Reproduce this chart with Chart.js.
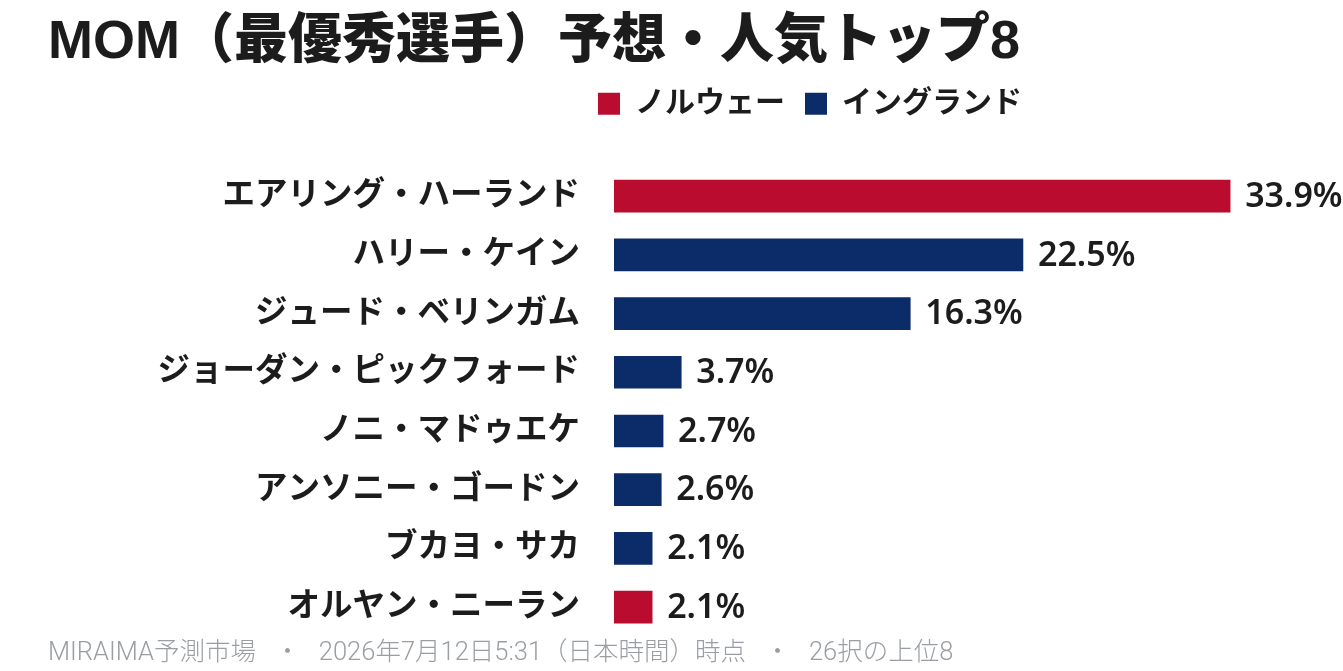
<!DOCTYPE html>
<html lang="ja">
<head>
<meta charset="utf-8">
<title>MOM予想</title>
<script src="https://cdn.jsdelivr.net/npm/chart.js@4.4.1/dist/chart.umd.min.js"></script>
<style>
  html, body { margin: 0; padding: 0; background: #fff; }
  #wrap { width: 1343px; height: 671px; position: relative; }
</style>
</head>
<body>
<div id="wrap"><canvas id="chart"></canvas></div>
<script>
const players = [
    'エアリング・ハーランド',
    'ハリー・ケイン',
    'ジュード・ベリンガム',
    'ジョーダン・ピックフォード',
    'ノニ・マドゥエケ',
    'アンソニー・ゴードン',
    'ブカヨ・サカ',
    'オルヤン・ニーラン'
];
const shares = [33.9, 22.5, 16.3, 3.7, 2.7, 2.6, 2.1, 2.1];
const teams = ['ノルウェー', 'イングランド', 'イングランド', 'イングランド', 'イングランド', 'イングランド', 'イングランド', 'ノルウェー'];
const teamNames = ['ノルウェー', 'イングランド'];
const teamColors = { 'ノルウェー': '#BA0C2F', 'イングランド': '#0C2B69' };

const JP = "'Liberation Sans', 'Noto Sans CJK JP', sans-serif";
const INK = '#1c1c1c';

// value labels at the end of each bar
const valueLabels = {
    id: 'valueLabels',
    afterDatasetsDraw(chart) {
        const ctx = chart.ctx;
        const meta = chart.getDatasetMeta(0);
        ctx.save();
        ctx.font = "600 34px 'Noto Sans', 'Liberation Sans', sans-serif";
        ctx.fillStyle = INK;
        ctx.textAlign = 'left';
        ctx.textBaseline = 'middle';
        meta.data.forEach((bar, i) => {
            ctx.fillText(shares[i].toFixed(1) + '%', bar.x + 15, bar.y + 1);
        });
        ctx.restore();
    }
};

// move the legend so it sits right of centre like the original
const legendShift = {
    id: 'legendShift',
    afterLayout(chart) {
        const lg = chart.legend;
        const w = lg.right - lg.left;
        lg.left = 578;
        lg.right = 578 + w;
    }
};

new Chart(document.getElementById('chart'), {
    type: 'bar',
    data: {
        labels: players,
        datasets: [{
            label: 'MOM',
            data: shares,
            backgroundColor: teams.map(t => teamColors[t]),
            barThickness: 32
        }]
    },
    options: {
        indexAxis: 'y',
        responsive: true,
        maintainAspectRatio: false,
        animation: false,
        layout: { padding: { left: 48, right: 2, top: 0, bottom: 0 } },
        scales: {
            x: {
                position: 'top',
                min: 0,
                max: 40,
                ticks: { display: false },
                grid: { display: false, drawTicks: false },
                border: { display: false },
                afterFit(scale) { scale.height = 38; }
            },
            y: {
                grid: { display: false, drawTicks: false },
                border: { display: false },
                ticks: {
                    padding: 34,
                    color: INK,
                    font: { family: JP, size: 32.5, weight: 'bold' }
                },
                afterFit(scale) {
                    scale.width = 566;
                    scale.paddingTop = 0;
                    scale.paddingBottom = 0;
                }
            }
        },
        plugins: {
            title: {
                display: true,
                text: 'MOM（最優秀選手）予想・人気トップ8',
                align: 'start',
                color: INK,
                font: { family: JP, size: 54, weight: '900', lineHeight: 0.96 },
                padding: { top: 17, bottom: 0 }
            },
            subtitle: {
                display: true,
                position: 'bottom',
                align: 'start',
                text: 'MIRAIMA予測市場   ・   2026年7月12日5:31（日本時間）時点   ・   26択の上位8',
                color: '#9a9ea3',
                font: { family: "Roboto, 'Noto Sans CJK JP', sans-serif", size: 25.5, weight: '300', lineHeight: 1.2 },
                padding: { top: 2, bottom: 2 }
            },
            legend: {
                display: true,
                position: 'top',
                align: 'start',
                labels: {
                    boxWidth: 22,
                    boxHeight: 22,
                    padding: 20,
                    color: INK,
                    font: { family: JP, size: 30, weight: 'bold' },
                    generateLabels() {
                        return teamNames.map(n => ({
                            text: n,
                            fillStyle: teamColors[n],
                            strokeStyle: teamColors[n],
                            lineWidth: 0,
                            fontColor: INK
                        }));
                    }
                }
            },
            tooltip: { enabled: false }
        }
    },
    plugins: [valueLabels, legendShift]
});
</script>
</body>
</html>
